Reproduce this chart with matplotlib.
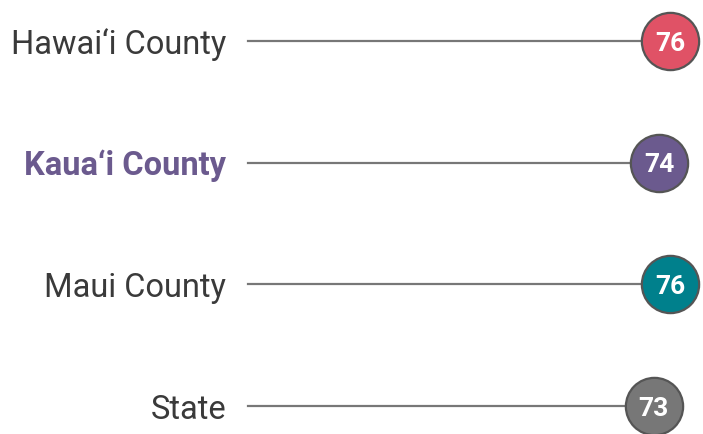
import matplotlib
matplotlib.use("Agg")
import matplotlib.pyplot as plt

# data
labels = ["Hawai\u2018i County", "Kaua\u2018i County", "Maui County", "State"]
values = [76, 74, 76, 73]
colours = ["#E05266", "#6B5A8E", "#00808C", "#777777"]
highlight = "Kaua\u2018i County"

plt.rcParams["font.family"] = ["Roboto", "DejaVu Sans"]

fig = plt.figure(figsize=(7.03, 4.34), dpi=100)
ax = fig.add_axes([0, 0, 1, 1])
# 0 -> x=248px, 76 -> x=670px
ax.set_xlim(-44.7, 81.9)
ax.set_ylim(3.23, -0.337)
ax.axis("off")

for i, (lab, v, c) in enumerate(zip(labels, values, colours)):
    ax.plot([0, v], [i, i], color="#777777", lw=1.6, zorder=1)
    ax.scatter([v], [i], s=1700, color=c, edgecolor="#555555", lw=1.6, zorder=2)
    ax.text(v, i, str(v), color="white", fontsize=19, fontweight="bold",
            ha="center", va="center_baseline", zorder=3)
    hl = lab == highlight
    ax.text(-4, i, lab, ha="right", va="center_baseline", fontsize=23.5,
            color="#6B5A8E" if hl else "#3a3a3a",
            fontweight="bold" if hl else "normal")

fig.savefig("out.png", dpi=100)
